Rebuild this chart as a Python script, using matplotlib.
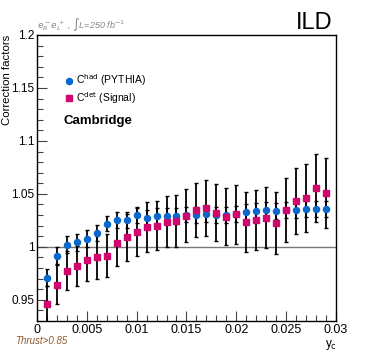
import numpy as np
import matplotlib
matplotlib.use("Agg")
from matplotlib import pyplot as plt
from matplotlib.ticker import MultipleLocator, FuncFormatter

plt.rcParams['font.family'] = ['Liberation Sans', 'DejaVu Sans']

yc = [0.001 * (i + 1) for i in range(29)]

c_had = [0.971, 0.9915, 1.002, 1.0044, 1.0078, 1.0135, 1.022, 1.025, 1.0255, 1.030,
         1.0277, 1.029, 1.029, 1.0295, 1.0305, 1.030, 1.031, 1.030, 1.030, 1.031,
         1.0327, 1.0337, 1.035, 1.0337, 1.0346, 1.035, 1.0355, 1.036, 1.036]
c_had_err = [0.008, 0.008, 0.008, 0.008, 0.008, 0.0075, 0.0075, 0.0075, 0.0075, 0.0075,
             0.0075, 0.0075, 0.0075, 0.0075, 0.0075, 0.0075, 0.0075, 0.0075, 0.0075, 0.0075,
             0.0075, 0.0075, 0.0075, 0.0075, 0.0075, 0.0075, 0.0075, 0.0075, 0.0075]

c_det = [0.9465, 0.9644, 0.9776, 0.982, 0.9877, 0.990, 0.9918, 1.0038, 1.009, 1.0139,
         1.0186, 1.020, 1.0239, 1.0245, 1.0295, 1.0346, 1.0365, 1.0324, 1.0283, 1.0308,
         1.0236, 1.0252, 1.0277, 1.0226, 1.0346, 1.0434, 1.046, 1.0554, 1.051]
c_det_err = [0.017, 0.0185, 0.0183, 0.019, 0.0195, 0.020, 0.020, 0.0217, 0.022, 0.023,
             0.0236, 0.0233, 0.024, 0.0245, 0.025, 0.0255, 0.0265, 0.0267, 0.027, 0.028,
             0.028, 0.0284, 0.029, 0.0294, 0.030, 0.031, 0.032, 0.032, 0.033]

blue = '#0a68cc'
pink = '#d0086e'

fig = plt.figure(figsize=(3.74, 3.57), dpi=100)
ax = fig.add_axes([0.099, 0.1008, 0.799, 0.8012])

ax.axhline(1.0, color='#777777', lw=1.0, zorder=1)

ax.errorbar(yc, c_det, yerr=c_det_err, fmt='none', ecolor='black', elinewidth=1.3,
            capsize=1.2, capthick=1.0, zorder=2)
ax.errorbar(yc, c_had, yerr=c_had_err, fmt='none', ecolor='black', elinewidth=1.3,
            capsize=1.2, capthick=1.0, zorder=2)
ax.plot(yc, c_had, 'o', color=blue, ms=4.4, mec=blue, zorder=3)
ax.plot(yc, c_det, 's', color=pink, ms=4.8, mec=pink, zorder=4)

ax.set_xlim(0, 0.03)
ax.set_ylim(0.93, 1.2)

ax.xaxis.set_major_locator(MultipleLocator(0.005))
ax.xaxis.set_minor_locator(MultipleLocator(0.001))
ax.yaxis.set_major_locator(MultipleLocator(0.05))
ax.yaxis.set_minor_locator(MultipleLocator(0.01))

fmt = FuncFormatter(lambda v, p: ('%.3f' % v).rstrip('0').rstrip('.'))
ax.xaxis.set_major_formatter(fmt)
ax.yaxis.set_major_formatter(fmt)

ax.tick_params(which='both', direction='in', top=False, right=False,
               color='#444444', width=0.8)
ax.tick_params(axis='x', labelsize=9)
ax.tick_params(axis='y', labelsize=8.5)
ax.tick_params(which='major', length=7, pad=2)
ax.tick_params(which='minor', length=4)
for s in ax.spines.values():
    s.set_linewidth(1.0)

fig.text(0.006, 0.902, 'Correction factors', rotation=90, ha='left', va='top', fontsize=8.2)
fig.text(0.885, 0.035, r'y$_{\rm c}$', ha='center', va='center', fontsize=8.5)
fig.text(0.04, 0.045, 'Thrust>0.85', style='italic', color='#8c5a28', ha='left',
         va='center', fontsize=7)
fig.text(0.099, 0.93, r'$e^-_R e^+_L$ , $\int$L=250 fb$^{-1}$', style='italic',
         color='#888888', ha='left', va='center', fontsize=6.5)
fig.text(0.89, 0.905, 'ILD', ha='right', va='bottom', fontsize=17)

ax.plot([0.0032], [1.157], 'o', color=blue, ms=4.4, clip_on=False)
ax.text(0.0039, 1.157, r'C$^{\rm had}$ (PYTHIA)', ha='left', va='center', fontsize=7.5)
ax.plot([0.0032], [1.1406], 's', color=pink, ms=4.8, clip_on=False)
ax.text(0.0039, 1.1406, r'C$^{\rm det}$ (Signal)', ha='left', va='center', fontsize=7.5)
ax.text(0.0027, 1.119, 'Cambridge', ha='left', va='center', fontsize=9.5, fontweight='bold')

fig.savefig('out.png', dpi=100)
